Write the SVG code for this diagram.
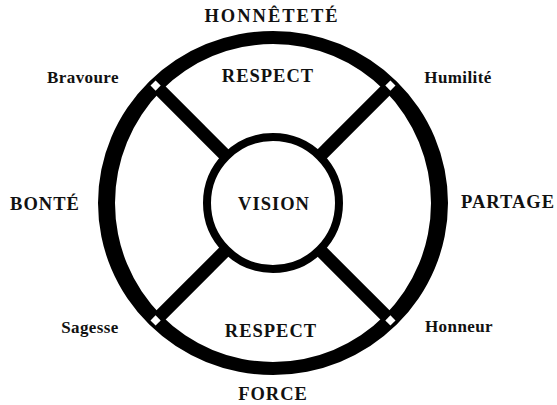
<svg xmlns="http://www.w3.org/2000/svg" width="557" height="405" viewBox="0 0 557 405">
<style>
text{font-family:"Liberation Serif","Times New Roman",serif;font-weight:bold;fill:#111;text-anchor:middle}
.cap{font-size:18.5px;letter-spacing:1px}
.low{font-size:17px;letter-spacing:0.4px}
.spoke{stroke:#000;stroke-width:13;fill:none}
.dia{fill:#fff}
</style>
<rect width="557" height="405" fill="#fff"/>
<g id="ring">
<path d="M98,203a175,172 0 1,0 350,0a175,172 0 1,0 -350,0z M115,203a158,159 0 1,0 316,0a158,159 0 1,0 -316,0z" fill="#000" fill-rule="evenodd"/>
</g>
<g id="connectors">
<line class="spoke" x1="226.3" y1="156.3" x2="155.6" y2="85.6"/>
<line class="spoke" x1="319.7" y1="156.3" x2="390.4" y2="85.6"/>
<line class="spoke" x1="226.3" y1="249.7" x2="155.6" y2="320.4"/>
<line class="spoke" x1="319.7" y1="249.7" x2="390.4" y2="320.4"/>
<rect class="dia" x="-3.6" y="-3.6" width="7.2" height="7.2" transform="translate(155.6,85.6) rotate(45)"/>
<rect class="dia" x="-3.6" y="-3.6" width="7.2" height="7.2" transform="translate(390.4,85.6) rotate(45)"/>
<rect class="dia" x="-3.6" y="-3.6" width="7.2" height="7.2" transform="translate(155.6,320.4) rotate(45)"/>
<rect class="dia" x="-3.6" y="-3.6" width="7.2" height="7.2" transform="translate(390.4,320.4) rotate(45)"/>
</g>
<g id="vision">
<circle cx="273" cy="203" r="66" fill="#fff" stroke="#000" stroke-width="8"/>
<text class="cap" x="274" y="210">VISION</text>
</g>
<g id="honnetete"><text class="cap" x="272" y="22" style="letter-spacing:2px">HONNÊTETÉ</text></g>
<g id="respect-top"><text class="cap" x="268" y="82">RESPECT</text></g>
<g id="respect-bottom"><text class="cap" x="271" y="337">RESPECT</text></g>
<g id="force"><text class="cap" x="273" y="400">FORCE</text></g>
<g id="bonte"><text class="cap" x="45" y="210">BONTÉ</text></g>
<g id="partage"><text class="cap" x="508" y="208">PARTAGE</text></g>
<g id="bravoure"><text class="low" x="83" y="83">Bravoure</text></g>
<g id="humilite"><text class="low" x="458" y="83">Humilité</text></g>
<g id="sagesse"><text class="low" x="90" y="333">Sagesse</text></g>
<g id="honneur"><text class="low" x="459" y="332">Honneur</text></g>
</svg>
